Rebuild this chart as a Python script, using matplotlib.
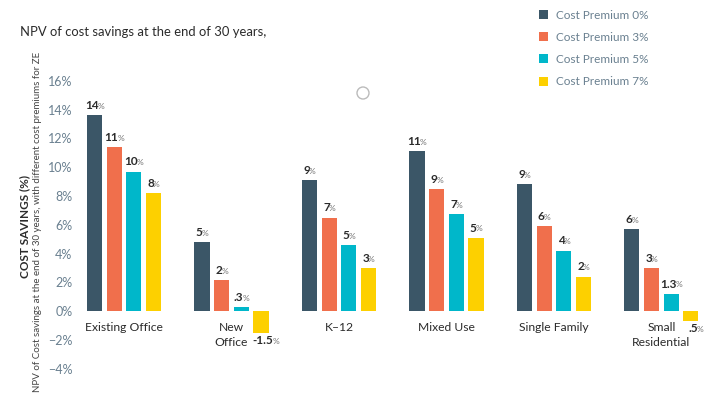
import numpy as np
import matplotlib
matplotlib.use("Agg")
import matplotlib.pyplot as plt
from matplotlib.patches import Circle

# --- DATA ---
categories = ["Existing Office", "New\nOffice", "K\u201312", "Mixed Use", "Single Family", "Small\nResidential"]
series_names = ["Cost Premium 0%", "Cost Premium 3%", "Cost Premium 5%", "Cost Premium 7%"]
premium_0 = [13.6, 4.8, 9.1, 11.1, 8.8, 5.7]
premium_3 = [11.4, 2.15, 6.5, 8.5, 5.9, 3.0]
premium_5 = [9.7, 0.28, 4.6, 6.75, 4.2, 1.2]
premium_7 = [8.2, -1.5, 3.0, 5.1, 2.4, -0.7]
labels_0 = ["14", "5", "9", "11", "9", "6"]
labels_3 = ["11", "2", "7", "9", "6", "3"]
labels_5 = ["10", ".3", "5", "7", "4", "1.3"]
labels_7 = ["8", "-1.5", "3", "5", "2", ".5"]
y_ticks = [-4, -2, 0, 2, 4, 6, 8, 10, 12, 14, 16]

colors = ["#3b5667", "#f06f4c", "#00b7ca", "#fdd000"]
tick_color = "#6a8090"
text_dark = "#2b2b2b"

plt.rcParams["font.family"] = ["Lato", "DejaVu Sans"]

fig = plt.figure(figsize=(7.1, 3.94), dpi=100)
fig.patch.set_facecolor("white")

# axes placed in pixel terms: 0% sits at y=311, 16% at y=81
ax = fig.add_axes([78 / 710, 1 - 375.7 / 394, (705 - 78) / 710, 301.9 / 394])
ax.set_ylim(-4.5, 16.5)
ax.set_xlim(-0.428, 5.405)

x = np.arange(len(categories))
width = 0.14
step = 0.183
all_values = [premium_0, premium_3, premium_5, premium_7]
all_labels = [labels_0, labels_3, labels_5, labels_7]

for i, (vals, labs) in enumerate(zip(all_values, all_labels)):
    pos = x + (i - 1.5) * step
    ax.bar(pos, vals, width=width, color=colors[i], label=series_names[i])
    for px, v, lab in zip(pos, vals, labs):
        if v >= 0:
            t = ax.annotate(lab, xy=(px, v), xytext=(-2, 3), textcoords="offset points",
                            ha="center", va="bottom", fontsize=8.5, fontweight="bold",
                            color=text_dark)
        else:
            t = ax.annotate(lab, xy=(px, v), xytext=(1.5, -1.5), textcoords="offset points",
                            ha="center", va="top", fontsize=8.5, fontweight="bold",
                            color=text_dark)
        ax.annotate("%", xy=(1, 0.1), xycoords=t, xytext=(-0.8, 0), textcoords="offset points",
                    ha="left", va="bottom", fontsize=6, color="#707070")

# category names just under the zero line, one text per line
for xi, cat in zip(x, categories):
    for k, line in enumerate(cat.split("\n")):
        ax.annotate(line, xy=(xi, 0), xytext=(0, -8 - k * 11), textcoords="offset points",
                    ha="center", va="top", fontsize=8.7, color=text_dark)

ax.set_yticks(y_ticks)
ax.set_yticklabels([f"{t}%".replace("-", "\u2212") for t in y_ticks])
ax.tick_params(axis="y", length=0, labelsize=9, labelcolor=tick_color, pad=4)
ax.tick_params(axis="x", length=0, labelbottom=False)
for s in ax.spines.values():
    s.set_visible(False)

fig.text(20 / 710, 1 - 32 / 394, "NPV of cost savings at the end of 30 years,",
         ha="left", va="center", fontsize=9.4, color=text_dark)
fig.text(25 / 710, 1 - 226 / 394, "COST SAVINGS (%)", rotation=90, ha="center", va="center",
         fontsize=8.5, fontweight="bold", color=text_dark)
fig.text(38 / 710, 1 - 222 / 394,
         "NPV of Cost savings at the end of 30 years, with different cost premiums for ZE",
         rotation=90, ha="center", va="center", fontsize=7, color="#444444")

leg = fig.legend(loc="upper left", bbox_to_anchor=(528 / 710, 1 + 1 / 394), frameon=False,
                 fontsize=8.5, handlelength=0.8, handleheight=0.8, handletextpad=0.7,
                 labelspacing=0.95, labelcolor=tick_color)

# small grey ring near the top of the plot
fig.add_artist(Circle((363, 394 - 93), 6, transform=None,
                      fill=False, edgecolor="#bbbbbb", linewidth=1))

fig.savefig("out.png", dpi=100)
